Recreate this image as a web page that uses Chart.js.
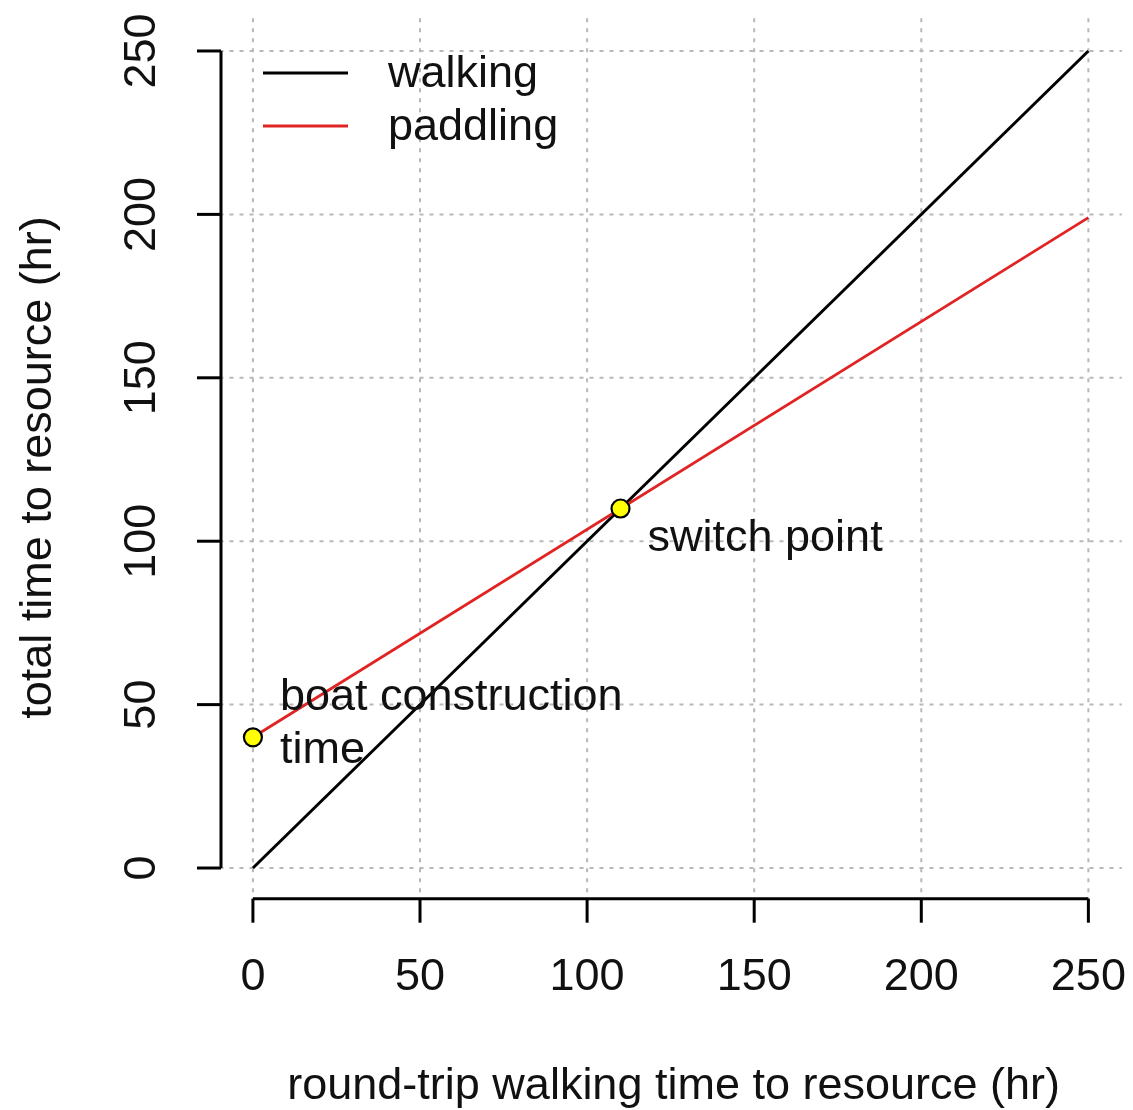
<!DOCTYPE html>
<html>
<head>
<meta charset="utf-8">
<script src="https://cdn.jsdelivr.net/npm/chart.js@4.4.1/dist/chart.umd.min.js"></script>
<style>
  html, body { margin: 0; padding: 0; background: #fff; overflow: hidden; }
  #wrap { width: 1133px; height: 1110px; }
  canvas { display: block; }
</style>
</head>
<body>
<div id="wrap"><canvas id="chart" width="1133" height="1110"></canvas></div>
<script>
// data
const walkingX = [0, 250];
const walkingY = [0, 250];
const paddlingX = [0, 250];
const paddlingY = [40, 199];
const markerX = [0, 110];
const markerY = [40, 110];
const markerLabels = [['boat construction', 'time'], ['switch point']];
const tickValues = [0, 50, 100, 150, 200, 250];
const seriesNames = ['walking', 'paddling'];
const seriesColors = ['#000000', '#e02424'];

const FONT = '"Liberation Sans", Arial, Helvetica, sans-serif';
const FS = 45;

function toPoints(xs, ys) {
    return xs.map((x, i) => ({ x: x, y: ys[i] }));
}

// R style detached axes, grid, legend and text labels
const rPlot = {
    id: 'rPlot',
    beforeDatasetsDraw(chart) {
        const ctx = chart.ctx;
        const xs = chart.scales.x, ys = chart.scales.y;
        ctx.save();
        ctx.strokeStyle = '#b8b8b8';
        ctx.lineWidth = 2;
        ctx.setLineDash([4, 6]);
        tickValues.forEach(v => {
            const px = xs.getPixelForValue(v);
            ctx.beginPath();
            ctx.moveTo(px, ys.top);
            ctx.lineTo(px, ys.bottom);
            ctx.stroke();
            const py = ys.getPixelForValue(v);
            ctx.beginPath();
            ctx.moveTo(xs.left, py);
            ctx.lineTo(xs.right, py);
            ctx.stroke();
        });
        ctx.restore();
    },
    afterDraw(chart) {
        const ctx = chart.ctx;
        const xs = chart.scales.x, ys = chart.scales.y;
        ctx.save();
        ctx.strokeStyle = '#000';
        ctx.fillStyle = '#111';
        ctx.lineWidth = 3;
        ctx.lineCap = 'butt';

        // y axis
        const ax = xs.left + 1.5;
        const y0 = ys.getPixelForValue(tickValues[0]);
        const y1 = ys.getPixelForValue(tickValues[tickValues.length - 1]);
        ctx.beginPath();
        ctx.moveTo(ax, y0);
        ctx.lineTo(ax, y1);
        ctx.stroke();
        ctx.font = FS + 'px ' + FONT;
        ctx.textAlign = 'center';
        ctx.textBaseline = 'middle';
        tickValues.forEach(v => {
            const py = ys.getPixelForValue(v);
            ctx.beginPath();
            ctx.moveTo(ax, py);
            ctx.lineTo(ax - 24, py);
            ctx.stroke();
            ctx.save();
            ctx.translate(ax - 78, py);
            ctx.rotate(-Math.PI / 2);
            ctx.fillText(String(v), 0, 0);
            ctx.restore();
        });

        // x axis
        const ay = ys.bottom - 2;
        const x0 = xs.getPixelForValue(tickValues[0]);
        const x1 = xs.getPixelForValue(tickValues[tickValues.length - 1]);
        ctx.beginPath();
        ctx.moveTo(x0, ay);
        ctx.lineTo(x1, ay);
        ctx.stroke();
        tickValues.forEach(v => {
            const px = xs.getPixelForValue(v);
            ctx.beginPath();
            ctx.moveTo(px, ay);
            ctx.lineTo(px, ay + 24);
            ctx.stroke();
            ctx.fillText(String(v), px, ay + 79);
        });

        // axis titles
        const midX = (xs.left + xs.right) / 2;
        const midY = (ys.top + ys.bottom) / 2;
        ctx.fillText('round-trip walking time to resource (hr)', midX + 3, ay + 188);
        ctx.save();
        ctx.translate(ax - 182, midY + 8);
        ctx.rotate(-Math.PI / 2);
        ctx.fillText('total time to resource (hr)', 0, 0);
        ctx.restore();

        // legend
        ctx.textAlign = 'left';
        seriesNames.forEach((name, i) => {
            const ly = 73 + i * 53;
            ctx.strokeStyle = seriesColors[i];
            ctx.lineWidth = 3;
            ctx.beginPath();
            ctx.moveTo(263, ly);
            ctx.lineTo(348, ly);
            ctx.stroke();
            ctx.fillText(name, 388, ly + 2);
        });

        // point annotations
        markerLabels.forEach((lines, i) => {
            const px = xs.getPixelForValue(markerX[i]) + 27;
            const py = ys.getPixelForValue(markerY[i]);
            const start = lines.length === 1 ? py + 30 : py - 40;
            lines.forEach((t, j) => ctx.fillText(t, px, start + j * 53));
        });
        ctx.restore();
    }
};

new Chart(document.getElementById('chart'), {
    type: 'scatter',
    data: {
        datasets: [
            {
                label: seriesNames[0],
                data: toPoints(walkingX, walkingY),
                showLine: true,
                borderColor: seriesColors[0],
                borderWidth: 3,
                pointRadius: 0,
                order: 2
            },
            {
                label: seriesNames[1],
                data: toPoints(paddlingX, paddlingY),
                showLine: true,
                borderColor: seriesColors[1],
                borderWidth: 2.8,
                pointRadius: 0,
                order: 1
            },
            {
                label: 'markers',
                data: toPoints(markerX, markerY),
                showLine: false,
                pointRadius: 9,
                pointBackgroundColor: '#ffff00',
                pointBorderColor: '#000',
                pointBorderWidth: 2.2,
                order: 0
            }
        ]
    },
    options: {
        responsive: false,
        animation: false,
        layout: { padding: { left: 219.5, right: 8.5, top: 18.3, bottom: 209.3 } },
        scales: {
            x: { type: 'linear', min: -10, max: 260, display: false },
            y: { type: 'linear', min: -10, max: 260, display: false }
        },
        plugins: {
            legend: { display: false },
            tooltip: { enabled: false }
        }
    },
    plugins: [rPlot]
});
</script>
</body>
</html>
